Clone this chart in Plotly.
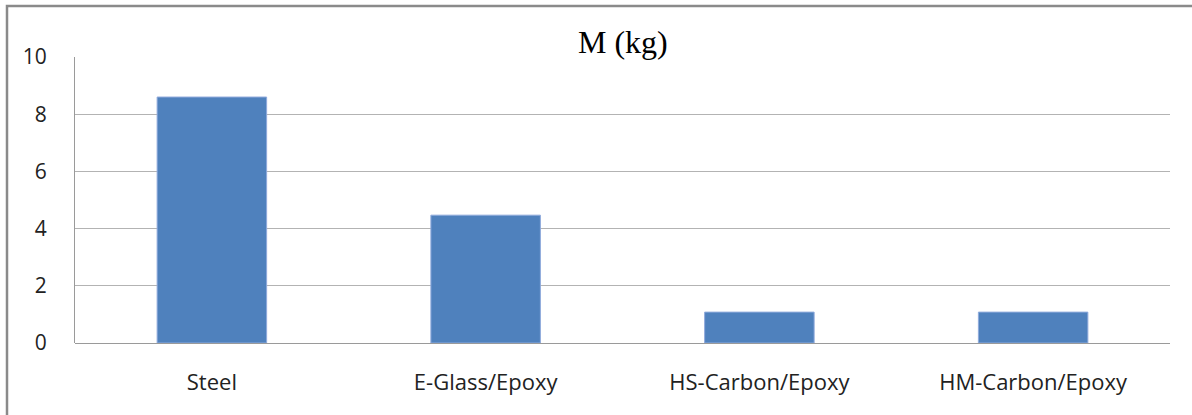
import plotly.graph_objects as go

categories = ["Steel", "E-Glass/Epoxy", "HS-Carbon/Epoxy", "HM-Carbon/Epoxy"]
mass_kg = [8.6, 4.47, 1.08, 1.08]
y_ticks = [0, 2, 4, 6, 8, 10]
chart_title = "M (kg)"

fig = go.Figure(
    go.Bar(
        x=categories,
        y=mass_kg,
        marker=dict(color="#4F81BD", line=dict(color="#8FAADC", width=1)),
    )
)

W, H = 1192, 415
fig.update_layout(
    width=W,
    height=H,
    margin=dict(l=75, r=22, t=57, b=72),
    paper_bgcolor="white",
    plot_bgcolor="white",
    bargap=0.6,
    showlegend=False,
    title=dict(
        text=chart_title,
        x=0.5225,
        xanchor="center",
        y=1 - 42 / H,
        yanchor="middle",
        yref="container",
        font=dict(family="Liberation Serif", size=32, color="black", weight="normal"),
    ),
    shapes=[
        dict(
            type="rect",
            xref="paper",
            yref="paper",
            x0=-0.0621,
            x1=1.05,
            y0=-0.3,
            y1=1.178,
            line=dict(color="#8a8a8a", width=2.5),
            fillcolor="rgba(0,0,0,0)",
            layer="below",
        )
    ],
)

fig.update_xaxes(
    showgrid=False,
    showline=False,
    ticks="",
    tickfont=dict(family="Open Sans", size=22, color="#222"),
    ticklabelstandoff=24,
)

fig.update_yaxes(
    range=[0, 10],
    tickvals=y_ticks,
    showgrid=True,
    gridcolor="#b3b3b3",
    gridwidth=1,
    showline=True,
    linecolor="#9a9a9a",
    linewidth=1,
    zeroline=True,
    zerolinecolor="#9a9a9a",
    zerolinewidth=1,
    ticks="",
    ticklabelstandoff=23,
    tickfont=dict(family="Open Sans", size=21, color="#222"),
)

fig.write_html(
    "out.html",
    config={"displayModeBar": False},
    post_script="document.body.style.margin='0';",
)
